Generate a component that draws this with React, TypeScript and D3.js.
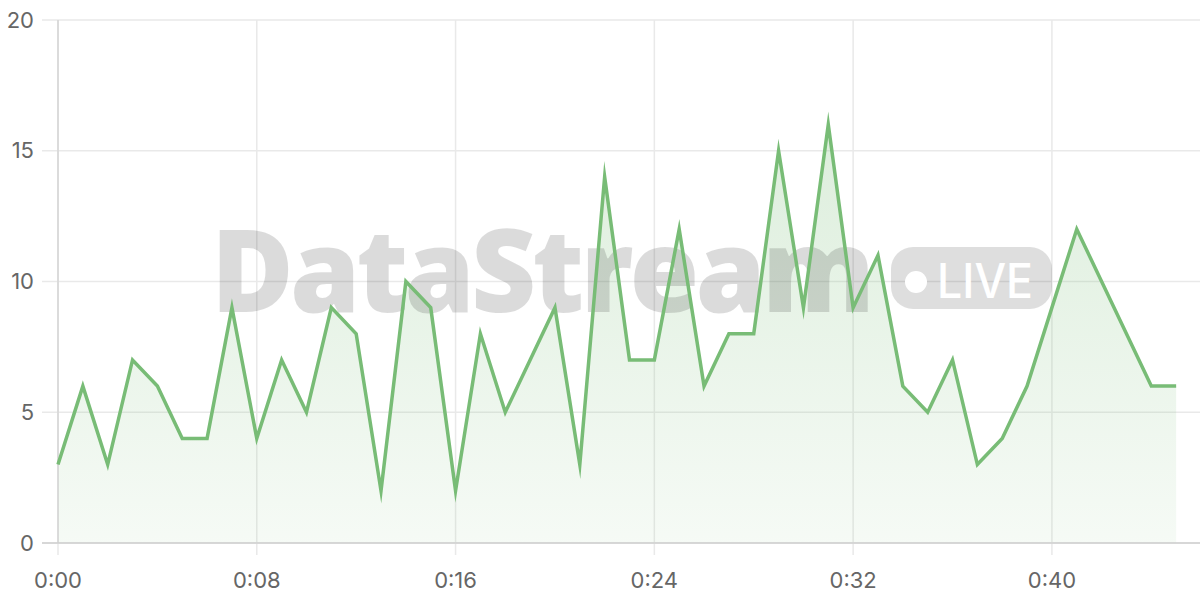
import React from 'react';
import * as d3 from 'd3';

const seconds = d3.range(0, 46);
const values = [3, 6, 3, 7, 6, 4, 4, 9, 4, 7, 5, 9, 8, 2, 10, 9, 2, 8, 5, 7, 9, 3, 14, 7, 7, 12, 6, 8, 8, 15, 9, 16, 9, 11, 6, 5, 7, 3, 4, 6, 9, 12, 10, 8, 6, 6];
const xTicks = [0, 8, 16, 24, 32, 40];
const yTicks = [0, 5, 10, 15, 20];
const watermark = 'DataStream';
const badge = 'LIVE';

const W = 1200, H = 600;
const M = { left: 58, top: 20, right: 0, bottom: 57 };

const fmt = (s: number) => `${Math.floor(s / 60)}:${String(s % 60).padStart(2, '0')}`;

export default function App() {
  const x = d3.scaleLinear().domain([0, 46]).range([M.left, 1201]);
  const y = d3.scaleLinear().domain([0, 20]).range([H - M.bottom, M.top]);
  const data = seconds.map((s, i) => ({ s, v: values[i] }));
  const line = d3.line<{ s: number; v: number }>().x(d => x(d.s)).y(d => y(d.v));
  const area = d3.area<{ s: number; v: number }>().x(d => x(d.s)).y0(y(0)).y1(d => y(d.v));
  const lineColor = '#78bc76';
  const font = 'Inter, "Liberation Sans", Arial, sans-serif';
  return (
    <svg width={W} height={H} style={{ position: 'absolute', left: 0, top: 0, background: '#fff' }}>
      <defs>
        <linearGradient id="fillGrad" gradientUnits="userSpaceOnUse" x1="0" y1={y(20)} x2="0" y2={y(0)}>
          <stop offset="0%" stopColor={lineColor} stopOpacity={0.3} />
          <stop offset="100%" stopColor={lineColor} stopOpacity={0.07} />
        </linearGradient>
      </defs>
      {yTicks.map(t => (
        <line key={'gy' + t} x1={M.left - 16} x2={W} y1={y(t)} y2={y(t)} stroke="#e9e9e9" strokeWidth={1.5} />
      ))}
      {xTicks.map(t => (
        <line key={'gx' + t} x1={x(t)} x2={x(t)} y1={y(20)} y2={y(0) + 12} stroke="#e9e9e9" strokeWidth={1.5} />
      ))}
      <path d={area(data) || ''} fill="url(#fillGrad)" />
      <line x1={M.left} x2={M.left} y1={y(20)} y2={y(0)} stroke="#d4d4d4" strokeWidth={1.5} />
      <line x1={M.left - 16} x2={W} y1={y(0)} y2={y(0)} stroke="#cfcfcf" strokeWidth={1.5} />
      <g>
        <text x={211} y={312} fontFamily='"Open Sans", Inter, sans-serif' fontWeight={800} fontSize={116}
          fill="rgba(0,0,0,0.14)" textLength={660} lengthAdjust="spacingAndGlyphs" letterSpacing={-4}>{watermark}</text>
        <rect x={891} y={247} width={161} height={62} rx={22} fill="rgba(0,0,0,0.13)" />
        <circle cx={916} cy={282} r={11} fill="#fff" />
        <text x={937} y={298} fontFamily='Inter, "Open Sans", sans-serif' fontWeight={500} fontSize={48}
          fill="#fff" textLength={96} lengthAdjust="spacingAndGlyphs">{badge}</text>
      </g>
      <path d={line(data) || ''} fill="none" stroke={lineColor} strokeWidth={3.5} strokeLinejoin="miter" strokeMiterlimit={10} />
      {yTicks.map(t => (
        <text key={'ly' + t} x={34} y={y(t)} dy="0.35em" textAnchor="end" fontFamily={font} fontSize={22} fill="#666">{t}</text>
      ))}
      {xTicks.map(t => (
        <text key={'lx' + t} x={x(t)} y={580} dy="0.35em" textAnchor="middle" fontFamily={font} fontSize={22} fill="#666">{fmt(t)}</text>
      ))}
    </svg>
  );
}
